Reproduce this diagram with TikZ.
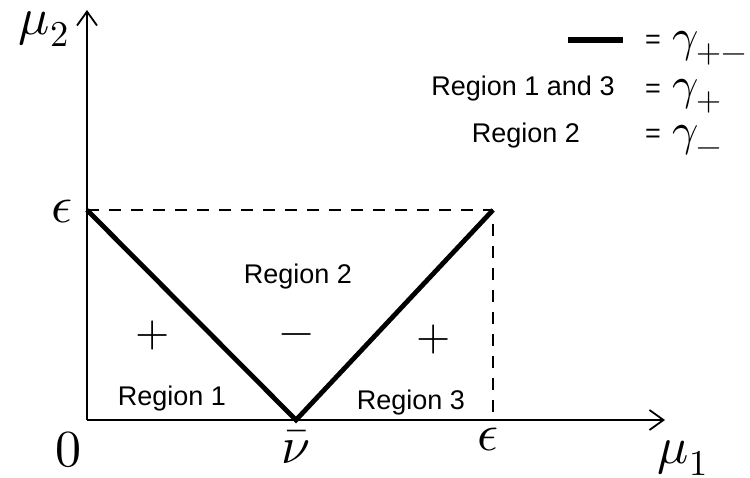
\documentclass[tikz,border=0pt]{standalone}
\usepackage{fontspec}
\usepackage{unicode-math}
\setsansfont{Liberation Sans}
\setmathfont{Latin Modern Math}
\usetikzlibrary{arrows.meta}
\begin{document}
\begin{tikzpicture}[x=1pt,y=-1pt,
  axis/.style={line width=2pt,-{Straight Barb[length=14pt,width=20pt,line width=1.8pt]}},
  vline/.style={line width=4.8pt,line join=miter},
  dashline/.style={line width=2pt,dash pattern=on 12pt off 10pt},
  lbl/.style={font=\sffamily\fontsize{27}{32}\selectfont,inner sep=0pt},
  mth/.style={font=\fontsize{52}{60}\selectfont,inner sep=0pt},
  lmth/.style={font=\fontsize{46}{52}\selectfont,inner sep=0pt},
  sgn/.style={font=\fontsize{44}{50}\selectfont,inner sep=0pt}]
\useasboundingbox (0,0) rectangle (750,477);
\coordinate (O) at (87,420);
\coordinate (Ytop) at (87,10);
\coordinate (Xend) at (665,420);
\coordinate (E2) at (87,210);
\coordinate (N) at (296,420);
\coordinate (E1) at (493,210);
\coordinate (E1c) at (493,224);
\coordinate (E1b) at (493,420);
\coordinate (L1) at (568,40);
\coordinate (L2) at (623,40);
% dashed box
\draw[dashline] (E2) -- (E1);
\draw[dashline] (E1c) -- (E1b);
% axes
\draw[axis] (O) -- (Ytop);
\draw[axis] (O) -- (Xend);
% V lines
\draw[vline] (E2) -- (N) -- (E1);
% legend line
\draw[line width=6pt] (L1) -- (L2);
% axis labels
\node[mth] (mu2) at (44,29) {$\mu_2$};
\node[mth] (eps2) at (62,212) {$\epsilon$};
\node[mth] (zero) at (68,450) {$0$};
\node[mth] (nu) at (296,447) {$\bar{\nu}$};
\node[mth] (eps1) at (488,440) {$\epsilon$};
\node[mth] (mu1) at (683,458) {$\mu_1$};
% region labels
\node[lbl] (r2) at (298,277) {Region 2};
\node[lbl] (r1) at (172,399) {Region 1};
\node[lbl] (r3) at (411,403) {Region 3};
\node[sgn] (p1) at (153,335) {$+$};
\node[sgn] (m2) at (297,340) {$-$};
\node[sgn] (p3) at (434,339) {$+$};
% legend
\node[lbl,anchor=west] (eq1) at (645,42) {=};
\node[lmth,anchor=west] (g1) at (672,48) {$\gamma_{+-}$};
\node[lbl] (leg13) at (523,89) {Region 1 and 3};
\node[lbl,anchor=west] (eq2) at (645,91) {=};
\node[lmth,anchor=west] (g2) at (672,96) {$\gamma_{+}$};
\node[lbl] (leg2) at (526,136) {Region 2};
\node[lbl,anchor=west] (eq3) at (645,136) {=};
\node[lmth,anchor=west] (g3) at (672,141) {$\gamma_{-}$};
\end{tikzpicture}
\end{document}
